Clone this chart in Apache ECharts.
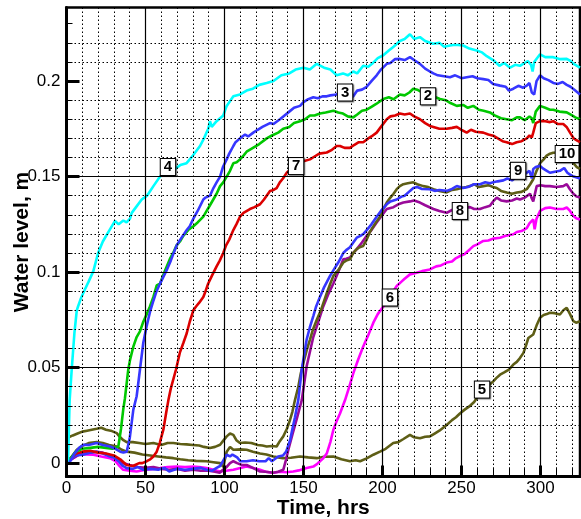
<!DOCTYPE html>
<html>
<head>
<meta charset="utf-8">
<script src="https://cdn.jsdelivr.net/npm/echarts@6/dist/echarts.min.js"></script>
<style>
html, body { margin: 0; padding: 0; background: #fff; }
#chart { width: 581px; height: 519px; }
</style>
</head>
<body>
<div id="chart"></div>
<script>
// Water level records, [time (hrs), level (m)], one array per gauge
const curve2 = [[0,0],[3,0.003],[6,0.006],[10,0.0075],[15,0.008],[20,0.0085],[25,0.008],[29,0.0075],[31,0.008],[32.8,0.0087],[34.5,0.018],[35.9,0.028],[37,0.034],[39.1,0.049],[40.2,0.054],[42.3,0.061],[44.4,0.066],[46.5,0.069],[48.6,0.074],[50.8,0.078],[52.8,0.082],[55,0.087],[57.1,0.093],[59.2,0.094],[62,0.100],[65.5,0.107],[67.5,0.110],[69.7,0.114],[71.8,0.116],[73.9,0.119],[77,0.122],[80.3,0.124],[83,0.126],[86.6,0.129],[88.7,0.132],[90.8,0.135],[92.9,0.138],[95,0.141],[97.2,0.145],[99.2,0.147],[101.4,0.150],[103.5,0.153],[105.6,0.157],[107.7,0.1575],[109.8,0.159],[112,0.161],[114,0.163],[118,0.165],[122,0.167],[126.7,0.170],[130,0.1715],[134,0.173],[137.2,0.175],[141,0.176],[144,0.178],[147.8,0.179],[151,0.180],[154.1,0.182],[157,0.182],[160.4,0.183],[164,0.1835],[168.9,0.1845],[172,0.1835],[175,0.183],[178,0.1815],[181.5,0.181],[184,0.1825],[187,0.1845],[190,0.185],[193,0.1865],[196,0.188],[200.5,0.1906],[204,0.1915],[207,0.1905],[211,0.193],[214,0.1925],[217,0.194],[219.5,0.196],[222,0.1955],[225,0.194],[229,0.192],[232,0.192],[236.4,0.1906],[240,0.190],[243,0.1885],[247,0.187],[251,0.1875],[254,0.186],[257.5,0.187],[261,0.185],[264,0.1845],[268,0.1836],[271,0.182],[275,0.1805],[278.6,0.180],[282,0.1795],[285,0.181],[287,0.181],[290,0.1795],[293,0.1815],[294.5,0.1805],[295.4,0.178],[297,0.184],[299.7,0.187],[303,0.186],[306,0.185],[308.1,0.185],[312,0.184],[316.6,0.1836],[320,0.182],[322,0.181],[325,0.180]];

const curve3 = [[0,0],[2.2,0.001],[5,0.005],[8,0.008],[10.6,0.0096],[14,0.0095],[19,0.0105],[23,0.0095],[27.5,0.0087],[31,0.0075],[34,0.006],[36,0.0055],[38.1,0.006],[40,0.013],[42.3,0.028],[44.4,0.035],[46.5,0.049],[48.6,0.063],[50.8,0.072],[52.8,0.079],[55,0.085],[57,0.090],[59.2,0.094],[61,0.097],[63.4,0.101],[66,0.106],[69.7,0.114],[72,0.117],[76.1,0.122],[78,0.124],[80.3,0.128],[83,0.132],[86.6,0.138],[88,0.139],[90.8,0.140],[93,0.144],[95,0.147],[97.2,0.150],[99,0.155],[101.4,0.159],[103,0.162],[105.6,0.166],[107,0.168],[109.8,0.170],[113,0.172],[115,0.171],[118.2,0.173],[121,0.1745],[124,0.176],[128.8,0.178],[131,0.1775],[135.1,0.180],[138,0.182],[141,0.184],[144,0.186],[147.8,0.187],[150,0.189],[153,0.1905],[156.2,0.1915],[159,0.191],[162,0.192],[164.7,0.192],[167,0.1925],[171,0.193],[173,0.1945],[176,0.194],[179,0.191],[181.5,0.192],[184,0.195],[187,0.1955],[190,0.197],[193,0.200],[196.3,0.203],[199,0.206],[202.7,0.209],[205,0.2095],[208,0.2115],[211,0.2116],[214,0.211],[217.4,0.2125],[220,0.211],[223.7,0.209],[227,0.2065],[230,0.205],[232.2,0.204],[235,0.203],[239,0.2025],[242.7,0.202],[246,0.203],[250,0.2015],[253.3,0.202],[257,0.2025],[260,0.2015],[263.8,0.201],[267,0.2005],[270,0.1985],[274.4,0.1976],[278,0.197],[280,0.195],[282.8,0.196],[286,0.1975],[289,0.1965],[291.3,0.1976],[293,0.199],[294.5,0.194],[296,0.193],[297.5,0.200],[299.7,0.203],[302,0.2015],[305,0.2005],[308.1,0.199],[311,0.1985],[314,0.1995],[316.6,0.198],[319,0.197],[322,0.195],[325,0.193]];

const curve4 = [[0,0],[1,0.002],[2,0.033],[3.3,0.049],[5,0.068],[6.5,0.080],[7.3,0.082],[9,0.086],[11.7,0.091],[14,0.095],[17,0.1005],[20,0.110],[23,0.116],[27.5,0.1224],[30.7,0.1268],[33,0.125],[36,0.127],[38,0.126],[40.2,0.128],[41.3,0.131],[44,0.134],[47.6,0.138],[51,0.140],[55,0.145],[59.2,0.150],[62,0.152],[64,0.155],[66,0.153],[68.7,0.154],[72,0.156],[76,0.157],[80,0.161],[84.5,0.166],[87,0.170],[89.7,0.175],[90.8,0.179],[91.9,0.176],[95,0.179],[99.2,0.182],[101.4,0.187],[105.6,0.192],[109.8,0.193],[114,0.195],[118,0.196],[122,0.198],[126.7,0.199],[131,0.200],[136,0.203],[141,0.204],[145,0.206],[150,0.207],[154,0.206],[158.4,0.209],[163,0.207],[167,0.206],[171,0.203],[175,0.204],[178,0.203],[181.5,0.205],[184,0.204],[187.8,0.208],[191,0.2075],[194,0.2095],[197,0.212],[200.5,0.2135],[204,0.216],[207,0.218],[211,0.221],[214,0.222],[217.4,0.2245],[220,0.222],[223.7,0.223],[227,0.221],[232,0.2195],[236,0.220],[239,0.218],[242.7,0.2186],[246,0.219],[251,0.2186],[255,0.217],[259.6,0.216],[263,0.215],[266,0.213],[270,0.211],[274,0.208],[277,0.2095],[280.7,0.207],[284,0.2085],[287,0.208],[289,0.209],[292,0.2105],[294,0.2085],[295,0.205],[296,0.210],[299.7,0.214],[303,0.2125],[308,0.2125],[312,0.2115],[316.6,0.2116],[319,0.2105],[321,0.209],[325,0.207]];

const curve5 = [[0,0],[3,0.003],[6.5,0.007],[10,0.009],[14,0.0105],[19.1,0.011],[23,0.0105],[27,0.0095],[31.8,0.0087],[35,0.007],[38.1,0.006],[43,0.0055],[48,0.0045],[53,0.004],[58,0.0035],[63,0.003],[67.6,0.0026],[72,0.002],[77,0.0015],[82,0.0012],[88.6,0.001],[93,0.0005],[97.2,0],[99.3,-0.002],[100.5,0.003],[101.4,0.006],[103.5,0.0085],[105.6,0.007],[110,0.0072],[114,0.007],[118,0.006],[122.5,0.005],[126.5,0.0045],[130.9,0.0035],[134,0.003],[137,0.0026],[142,0.0028],[147.8,0.0035],[153,0.003],[158.4,0.0026],[163,0.0033],[168.9,0.0035],[174,0.002],[179.4,0.001],[183,0.0015],[185.8,0.001],[190,0.0025],[194.2,0.0044],[198.4,0.006],[202,0.0075],[206.8,0.0105],[210,0.011],[213,0.0125],[217.4,0.0148],[220,0.0135],[223.7,0.013],[227,0.0138],[230,0.014],[233,0.0155],[236,0.017],[240.6,0.020],[244,0.0225],[246.5,0.024],[249,0.026],[252,0.028],[255.4,0.030],[258,0.032],[260,0.0345],[262.8,0.036],[265,0.039],[267,0.0405],[270.1,0.0428],[272,0.0445],[274.4,0.0463],[277,0.0475],[280,0.049],[282.8,0.0516],[285,0.053],[287,0.055],[289.2,0.0577],[291,0.062],[292.3,0.0655],[293.4,0.0664],[295.4,0.0673],[297.5,0.072],[299.7,0.0761],[302,0.0775],[304,0.078],[306,0.0787],[309,0.0785],[312.3,0.0778],[314.5,0.080],[316.6,0.0813],[318.7,0.078],[320.8,0.0743],[322.5,0.0735],[325,0.0743]];

const curve6 = [[0,0],[3,0.002],[5,0.003],[8.5,0.005],[12,0.0045],[17,0.0044],[22,0.0035],[27.5,0.0026],[31,0.001],[33,-0.001],[35.9,-0.0035],[40,-0.004],[44.4,-0.0044],[50,-0.0035],[55,-0.003],[59.2,-0.0026],[64,-0.002],[69.7,-0.0018],[75,-0.002],[80.3,-0.0018],[84,-0.002],[88.7,-0.0026],[93,-0.0035],[97.2,-0.0044],[101,-0.004],[105.6,-0.0035],[110,-0.0025],[114,-0.0018],[118,-0.0025],[122.5,-0.0035],[126,-0.0045],[130.9,-0.005],[135,-0.0045],[139,-0.0048],[143.5,-0.0044],[147,-0.0038],[152,-0.0026],[156.2,-0.0018],[158.5,-0.0005],[160.4,0.001],[162.5,0.0025],[164.7,0.005],[167,0.011],[168.9,0.0175],[171,0.022],[173.1,0.026],[176.3,0.033],[179,0.040],[181.5,0.047],[184.5,0.054],[187.8,0.061],[191,0.067],[194.2,0.0735],[197,0.078],[200.5,0.082],[203,0.085],[206,0.089],[209,0.0927],[212,0.095],[214,0.0965],[217.4,0.0988],[221,0.0995],[225,0.1005],[230,0.1014],[234,0.103],[237,0.1035],[240.6,0.105],[244,0.1055],[246,0.107],[249,0.1084],[252,0.1095],[255.4,0.112],[257.5,0.1136],[260,0.1145],[263.8,0.1163],[267,0.1165],[270,0.1175],[274.4,0.118],[278,0.119],[282.8,0.1198],[285,0.121],[288,0.1215],[291.3,0.123],[293,0.1255],[295.4,0.1276],[296.3,0.1224],[297.5,0.128],[299.7,0.132],[303,0.1335],[306,0.1338],[310,0.133],[314.4,0.133],[316.6,0.1338],[318.7,0.132],[320.8,0.1294],[323,0.128],[325,0.1276]];

const curve7 = [[0,0],[3,0.003],[6,0.005],[10,0.006],[15,0.0065],[20,0.0055],[25,0.005],[30,0.004],[34,0.002],[38,-0.001],[42,-0.0015],[46,0],[48,0],[50.8,0.001],[53,0.002],[55,0.0035],[57.1,0.006],[59,0.0105],[61.3,0.0175],[63,0.026],[64.5,0.033],[66,0.039],[69.3,0.049],[71.8,0.058],[74,0.063],[76.1,0.068],[78,0.074],[80.3,0.080],[82,0.082],[84,0.084],[86.6,0.087],[88,0.090],[89.7,0.094],[92,0.098],[95,0.103],[97,0.106],[99.2,0.110],[101,0.114],[103,0.117],[105.6,0.122],[107.5,0.125],[109.8,0.129],[112,0.131],[116.1,0.133],[119,0.134],[122.5,0.1355],[125,0.138],[128.8,0.1425],[131,0.143],[133,0.144],[135,0.147],[137,0.149],[139.4,0.152],[142,0.154],[144.6,0.156],[147,0.157],[150,0.158],[154.1,0.159],[157,0.1605],[160,0.162],[164.7,0.1626],[168,0.164],[171,0.166],[173.1,0.166],[176,0.165],[179.4,0.165],[182,0.1665],[185,0.168],[187.8,0.168],[191,0.170],[193,0.171],[196.3,0.173],[199,0.176],[202.7,0.180],[205,0.1815],[208,0.182],[211,0.183],[214,0.1825],[217.4,0.183],[220,0.1815],[223.7,0.180],[227,0.178],[230,0.1765],[232.2,0.176],[236,0.175],[240.6,0.175],[244,0.1755],[247,0.176],[250,0.1745],[253.3,0.173],[256,0.1745],[259,0.1735],[263.8,0.173],[267,0.172],[270.1,0.1714],[273,0.170],[276,0.1685],[278.6,0.168],[282,0.167],[284.9,0.168],[288,0.1685],[291.3,0.170],[293,0.1715],[294.5,0.1705],[295.4,0.173],[297,0.178],[299.7,0.179],[303,0.179],[306,0.1785],[308.1,0.179],[311,0.1775],[314.4,0.1775],[316.5,0.176],[318.7,0.173],[321,0.170],[323,0.169],[325,0.168]];

const curve8 = [[0,0],[3,0.002],[5,0.003],[8,0.0045],[10.6,0.005],[15,0.0055],[19,0.006],[23,0.0055],[26,0.0045],[29.4,0.0035],[32,0.002],[35.6,0],[40,-0.001],[45,-0.002],[50,-0.0025],[55,-0.002],[60,-0.003],[65,-0.0035],[70,-0.003],[75,-0.004],[80,-0.0035],[85,-0.004],[90,-0.004],[94,-0.0045],[97,-0.005],[99,-0.0035],[101.4,-0.002],[103.5,0],[105.6,0.001],[108,0],[111,-0.001],[114,-0.001],[118,-0.0025],[122.5,-0.0044],[126,-0.0045],[130.8,-0.005],[134,-0.0045],[137.2,-0.0035],[139,0.002],[140.4,0.007],[143,0.015],[145.6,0.0227],[148.9,0.033],[150.5,0.042],[152,0.0507],[154,0.058],[156.2,0.066],[159,0.073],[162.5,0.082],[166,0.089],[168.9,0.094],[172,0.100],[175.2,0.1067],[177,0.107],[179.4,0.1076],[181.5,0.110],[183.7,0.112],[187,0.1155],[190,0.119],[193,0.122],[196.3,0.126],[199,0.129],[202.7,0.133],[206.9,0.134],[210,0.1355],[213.2,0.1364],[217.4,0.137],[220,0.1375],[223.7,0.1364],[227,0.135],[232.2,0.133],[236,0.132],[240.6,0.131],[244,0.1325],[247,0.133],[251,0.1335],[255.4,0.134],[258,0.133],[261.7,0.133],[265,0.134],[268,0.1347],[270,0.137],[272.3,0.139],[275,0.1375],[278.6,0.137],[282,0.1375],[285,0.1385],[287,0.138],[290,0.139],[293.4,0.141],[294.5,0.1385],[295.4,0.137],[297.6,0.145],[300,0.1455],[303,0.145],[306,0.145],[310,0.1445],[314.4,0.145],[316.6,0.146],[318.5,0.1435],[320.8,0.141],[323,0.1395],[325,0.139]];

const curve9 = [[0,0],[2.2,0.001],[4,0.003],[6,0.004],[10.6,0.0044],[15,0.0055],[19,0.006],[23,0.005],[27.5,0.0035],[30,0.003],[33,0.001],[35,-0.001],[38,-0.0026],[42,-0.003],[45,-0.002],[48.6,-0.0035],[53,-0.003],[58,-0.0035],[62,-0.0025],[65,-0.0044],[70,-0.003],[75,-0.0035],[80,-0.003],[85,-0.0025],[88.6,-0.0035],[92,-0.004],[95,-0.0025],[97.2,-0.0015],[99,0.001],[101.4,0.0044],[103.5,0.0035],[105,0.0045],[108,0.003],[110,0.001],[114,0.001],[118,0.0015],[122,0.001],[126,0.001],[128,0.0026],[130,0.001],[134,0.0035],[137,0.004],[139,0.006],[141.5,0.012],[143,0.018],[144.6,0.024],[146.7,0.033],[148.9,0.049],[150.5,0.057],[152,0.0647],[154,0.071],[156.2,0.077],[158,0.082],[160.4,0.087],[163,0.092],[166.8,0.098],[169,0.101],[172,0.105],[175.2,0.110],[177,0.1115],[179.4,0.113],[181.5,0.1155],[183.7,0.118],[186,0.119],[188,0.120],[190,0.122],[193,0.125],[196.3,0.129],[199,0.132],[202.7,0.1355],[205,0.137],[209,0.138],[212,0.1395],[214,0.140],[217.4,0.1425],[219.5,0.144],[222,0.1445],[225,0.1435],[230,0.1434],[233,0.1425],[236,0.143],[240.6,0.1425],[244,0.1435],[247,0.145],[251.1,0.144],[254,0.1445],[258,0.146],[261.7,0.146],[265,0.147],[268,0.1465],[270.1,0.147],[273,0.1475],[276.5,0.148],[279,0.149],[282,0.148],[285,0.150],[288,0.1505],[291.3,0.152],[293,0.153],[294.5,0.149],[295.4,0.154],[297,0.155],[299.7,0.1556],[302,0.154],[304,0.153],[306,0.152],[309,0.1525],[312.3,0.153],[315,0.1545],[317,0.152],[318.7,0.151],[321,0.150],[325,0.149]];

const curve10 = [[0,0.013],[1.1,0.014],[4,0.0145],[7,0.0155],[10,0.0165],[13,0.017],[16,0.0175],[19.1,0.018],[22,0.0185],[25,0.0175],[28,0.017],[31.8,0.0157],[34,0.0135],[36,0.012],[38.1,0.011],[42,0.011],[46,0.0105],[50,0.010],[55,0.0105],[60,0.0095],[64,0.0105],[67.6,0.0105],[72,0.010],[76,0.0098],[80,0.0095],[84,0.0092],[87,0.0085],[90.8,0.0079],[94,0.0085],[97.2,0.0096],[99,0.0115],[101.4,0.014],[103.5,0.0155],[105.6,0.0148],[107.5,0.012],[109.8,0.0105],[113,0.0108],[117,0.0105],[121,0.0095],[124,0.0092],[126.7,0.0087],[130,0.009],[133,0.0087],[135,0.0115],[137.2,0.014],[139.5,0.018],[141.5,0.0227],[143,0.027],[144.6,0.033],[146.7,0.040],[148.3,0.047],[149.9,0.0525],[152,0.059],[154.1,0.0647],[156,0.070],[158.4,0.075],[161,0.080],[164.7,0.089],[167,0.094],[168.9,0.098],[172,0.101],[175.2,0.105],[177,0.106],[179.4,0.1067],[181.5,0.110],[183.7,0.112],[185.5,0.113],[187.8,0.1137],[190,0.117],[192,0.121],[195,0.125],[198.4,0.129],[200.5,0.133],[202.7,0.1364],[205,0.139],[207,0.141],[209,0.1434],[211,0.145],[213.2,0.146],[216,0.1465],[219.5,0.147],[222,0.146],[225.8,0.145],[229,0.1445],[232.2,0.1434],[236,0.1425],[240.6,0.1417],[244,0.143],[247,0.1434],[250,0.144],[253,0.1445],[255.4,0.145],[258,0.146],[261,0.1445],[263.8,0.145],[267,0.1455],[270,0.1445],[272.3,0.144],[275,0.1425],[278.6,0.1417],[282,0.141],[285,0.1417],[288,0.142],[291.3,0.1434],[293.5,0.146],[295.4,0.1486],[297.5,0.153],[299.7,0.157],[302,0.159],[303.9,0.161],[306,0.162],[308,0.1625],[310.3,0.1626],[313,0.1625],[316.6,0.162],[319,0.160],[320.8,0.157],[323,0.155],[325,0.154]];

// Gauge numbers and where each number tag sits, [time, level]
const gaugeNames = ['5', '6', '8', '10', '9', '7', '2', '3', '4'];
const tagSpots = {
  '2': [228.8, 0.192],
  '3': [176.3, 0.194],
  '4': [64.2, 0.155],
  '5': [263, 0.0385],
  '6': [204.7, 0.0867],
  '7': [145.3, 0.1555],
  '8': [249, 0.132],
  '9': [285.8, 0.153],
  '10': [316.8, 0.1618]
};

// Axis ticks
const xMajorTicks = [0, 50, 100, 150, 200, 250, 300];
const yMajorTicks = [0, 0.05, 0.1, 0.15, 0.2];
const yMinorTicks = [0.01, 0.02, 0.03, 0.04, 0.06, 0.07, 0.08, 0.09, 0.11, 0.12, 0.13, 0.14, 0.16, 0.17, 0.18, 0.19, 0.21, 0.22, 0.23];

const curves = {
  '2': curve2, '3': curve3, '4': curve4, '5': curve5, '6': curve6,
  '7': curve7, '8': curve8, '9': curve9, '10': curve10
};

const palette = {
  '2': '#00c800', '3': '#3636ff', '4': '#00ffff', '5': '#5e5e16', '6': '#ff00ff',
  '7': '#dc0000', '8': '#9a0a9a', '9': '#3636ff', '10': '#5e5e16'
};

const FONT = '"Liberation Sans", Arial, Helvetica, sans-serif';

const chart = echarts.init(document.getElementById('chart'), null, { renderer: 'canvas' });

const series = gaugeNames.map(name => ({
  name: 'Gauge ' + name,
  type: 'line',
  data: curves[name],
  xAxisIndex: 0,
  yAxisIndex: 0,
  showSymbol: false,
  symbol: 'none',
  silent: true,
  clip: true,
  lineStyle: { color: palette[name], width: 2.6 },
  markPoint: {
    silent: true,
    symbol: 'rect',
    symbolSize: 0,
    data: [{ coord: tagSpots[name], value: name }],
    label: {
      show: true,
      position: 'inside',
      formatter: name,
      color: '#000',
      fontFamily: FONT,
      fontSize: 15,
      fontWeight: 'bold',
      backgroundColor: '#fff',
      borderColor: '#000',
      borderWidth: 1,
      padding: [1, 3, 0, 3],
      shadowColor: 'rgba(0,0,0,0.45)',
      shadowOffsetX: 1,
      shadowOffsetY: 1,
      shadowBlur: 1
    }
  },
  z: 3
}));

chart.setOption({
  animation: false,
  backgroundColor: '#fff',
  grid: {
    left: 66.5, right: 1, top: 7.5, bottom: 42.5,
    outerBoundsMode: 'none',
    containLabel: false,
    show: true, borderColor: '#000', borderWidth: 2.5, backgroundColor: '#fff'
  },
  xAxis: [
    {
      type: 'value', min: 0, max: 325, interval: 50, position: 'bottom',
      name: 'Time, hrs', nameLocation: 'middle', nameGap: 21, nameMoveOverlap: false,
      nameTextStyle: { fontFamily: FONT, fontSize: 21, fontWeight: 'bold', color: '#000' },
      axisLine: { show: true, onZero: false, lineStyle: { color: '#000', width: 3 } },
      axisTick: { show: true, inside: true, length: 11, lineStyle: { color: '#000', width: 3 } },
      axisLabel: {
        show: true, margin: 3, color: '#000', fontFamily: FONT, fontSize: 17,
        customValues: xMajorTicks
      },
      splitLine: { show: true, showMinLine: false, showMaxLine: false, lineStyle: { color: '#000', width: 1.2 } },
      z: 5
    },
    {
      type: 'value', min: 0, max: 325, interval: 10, position: 'bottom',
      axisLine: { show: false, onZero: false },
      axisTick: { show: true, inside: true, length: 9, lineStyle: { color: '#000', width: 1 } },
      axisLabel: { show: false },
      splitLine: { show: true, showMinLine: false, showMaxLine: false, lineStyle: { color: '#000', width: 1, type: [1.5, 2.5] } },
      z: 4
    }
  ],
  yAxis: [
    {
      type: 'value', min: -0.007, max: 0.2385, position: 'left',
      name: 'Water level, m', nameLocation: 'middle', nameGap: 34, nameRotate: 90, nameMoveOverlap: false,
      nameTextStyle: { fontFamily: FONT, fontSize: 21, fontWeight: 'bold', color: '#000' },
      axisLine: { show: true, onZero: false, lineStyle: { color: '#000', width: 3 } },
      axisTick: { show: true, inside: true, length: 13, customValues: yMajorTicks, lineStyle: { color: '#000', width: 3 } },
      axisLabel: { show: true, margin: 6, color: '#000', fontFamily: FONT, fontSize: 17, customValues: yMajorTicks },
      splitLine: { show: true, showMinLine: false, showMaxLine: false, lineStyle: { color: '#000', width: 1.2 } },
      z: 5
    },
    {
      type: 'value', min: -0.007, max: 0.2385, position: 'left',
      axisLine: { show: false, onZero: false },
      axisTick: { show: true, inside: true, length: 6, customValues: yMinorTicks, lineStyle: { color: '#000', width: 1 } },
      axisLabel: { show: false },
      splitLine: { show: true, showMinLine: false, showMaxLine: false, lineStyle: { color: '#000', width: 1, type: [1.5, 2.5] } },
      z: 4
    }
  ],
  series: series
});
</script>
</body>
</html>
